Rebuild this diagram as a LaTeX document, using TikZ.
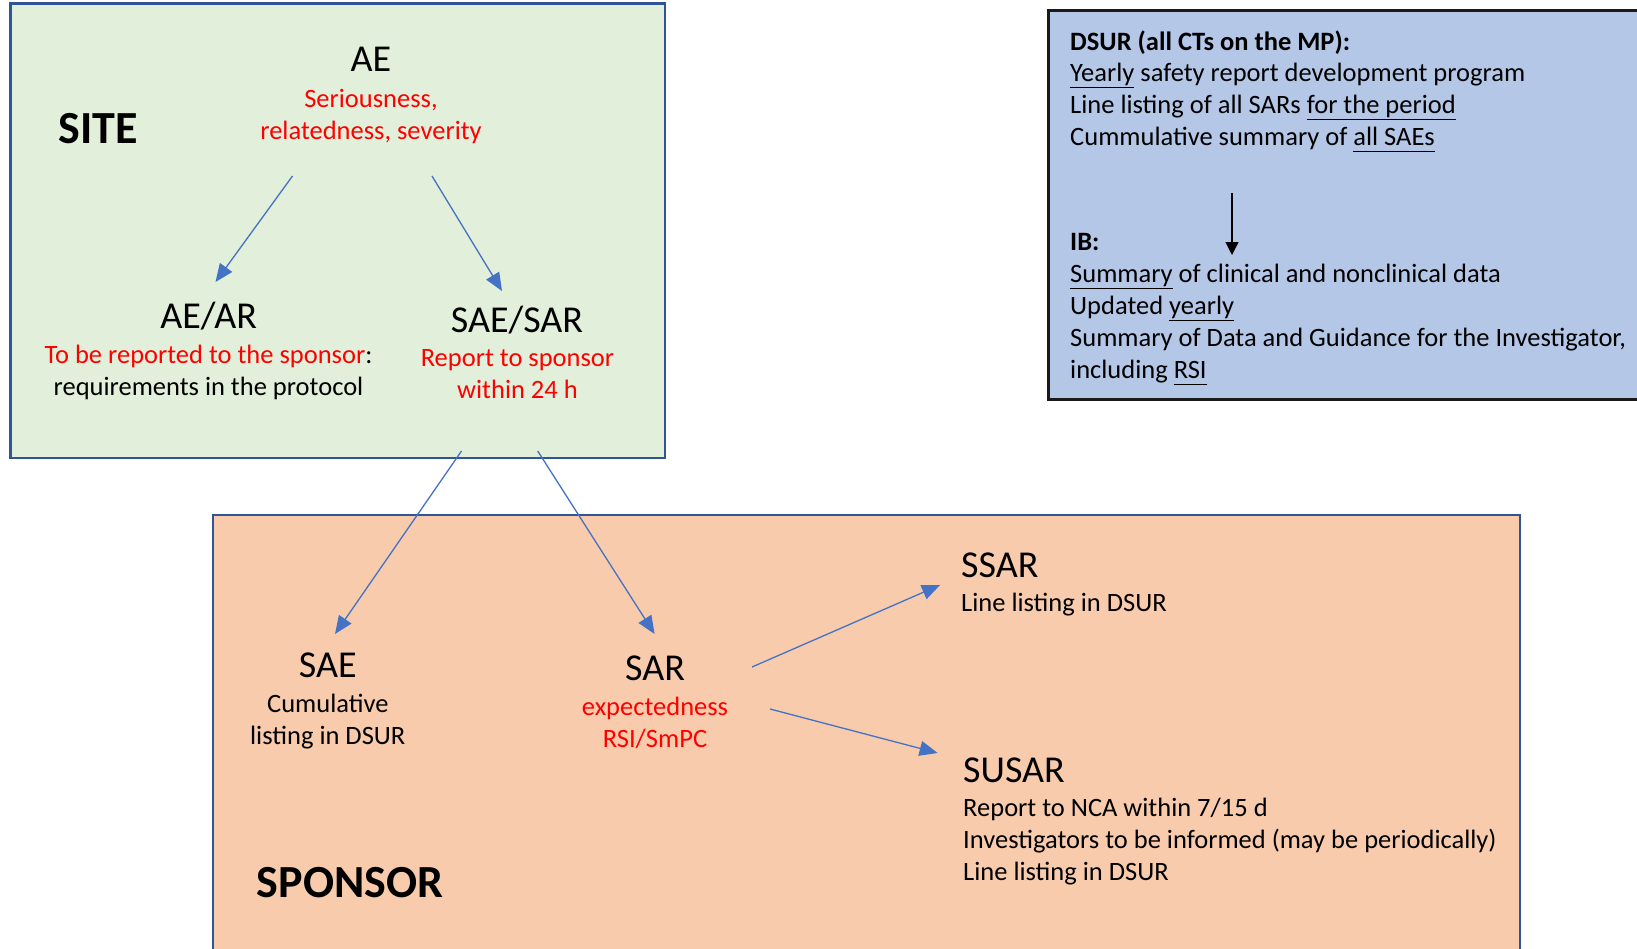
\documentclass[tikz,border=0pt]{standalone}
\usepackage{fontspec}
\setmainfont{Carlito}
\usetikzlibrary{arrows.meta}

\definecolor{sitegreen}{RGB}{226,239,218}
\definecolor{dsurblue}{RGB}{180,199,231}
\definecolor{sponsororange}{RGB}{248,203,173}
\definecolor{boxblue}{RGB}{47,85,151}
\definecolor{arrowblue}{RGB}{68,114,196}
\definecolor{textred}{RGB}{255,0,0}
\newcommand{\uln}[1]{\underline{#1\vphantom{gy}}}

\begin{document}
\begin{tikzpicture}[x=1pt,y=-1pt,
    box/.style={anchor=north west, inner sep=0pt, outer sep=0pt, line width=2.5pt},
    title/.style={font=\fontsize{38}{44}\selectfont, inner sep=0pt, anchor=base},
    body/.style={font=\fontsize{26.5}{31.8}\selectfont, inner sep=0pt, anchor=base, align=center},
    bodyl/.style={body, align=left, anchor=base west},
    head/.style={bodyl, font=\fontsize{26.5}{31.8}\selectfont\bfseries},
    biglabel/.style={font=\fontsize{46}{50}\selectfont\bfseries, inner sep=0pt, anchor=base},
    link/.style={draw=arrowblue, line width=1.3pt, -{Triangle[length=18pt,width=15pt]}}]
  \useasboundingbox (0,0) rectangle (1637,948);
  \clip (0,0) rectangle (1637,948);

  % the three boxes
  \node[box, draw=boxblue, fill=sitegreen, minimum width=654.5pt, minimum height=454.7pt] (site) at (10.5,3.3) {};
  \node[box, draw=black!90, line width=3pt, fill=dsurblue, minimum width=620pt, minimum height=389pt] (dsurbox) at (1048,10) {};
  \node[box, draw=boxblue, fill=sponsororange, minimum width=1307pt, minimum height=460pt] (sponsor) at (213,515) {};

  % site (multi-line nodes sit on their last baseline)
  \node[biglabel] (sitelbl) at (98,143) {SITE};
  \node[title] (ae) at (371,71.7) {AE};
  \node[body, text=textred] (aeinfo) at (371,139.5) {Seriousness,\\relatedness, severity};
  \node[title] (aear) at (208.7,328) {AE/AR};
  \node[body] (aearinfo) at (208.5,395) {\textcolor{textred}{To be reported to the sponsor}:\\requirements in the protocol};
  \node[title] (saesar) at (517,332) {SAE/SAR};
  \node[body, text=textred] (saesarinfo) at (517.5,398) {Report to sponsor\\within 24 h};

  % sponsor
  \node[title] (sae) at (327.8,677) {SAE};
  \node[body] (saeinfo) at (327.8,744) {Cumulative\\listing in DSUR};
  \node[title] (sar) at (655,680) {SAR};
  \node[body, text=textred] (sarinfo) at (655,747) {expectedness\\RSI/SmPC};
  \node[title, anchor=base west] (ssar) at (961,577) {SSAR};
  \node[bodyl] (ssarinfo) at (961,611) {Line listing in DSUR};
  \node[title, anchor=base west] (susar) at (963,782) {SUSAR};
  \node[bodyl] (susarinfo) at (963,880) {Report to NCA within 7/15 d\\Investigators to be informed (may be periodically)\\Line listing in DSUR};
  \node[biglabel] (sponsorlbl) at (350,897) {SPONSOR};

  % DSUR / IB
  \node[head] (dsur) at (1070,50) {DSUR (all CTs on the MP):};
  \node[bodyl] (dsurinfo) at (1070,145) {\uln{Yearly} safety report development program\\Line listing of all SARs \uln{for the period}\\Cummulative summary of \uln{all SAEs}};
  \node[head] (ib) at (1070,250) {IB:};
  \node[bodyl] (ibinfo) at (1070,378) {\uln{Summary} of clinical and nonclinical data\\Updated \uln{yearly}\\Summary of Data and Guidance for the Investigator,\\including \uln{RSI}};

  % arrows
  \draw[link] ([shift={(-78.5,104.3)}]ae.base) -- ([shift={(6.8,-46)}]aear.base);
  \draw[link] ([shift={(61,104.3)}]ae.base) -- ([shift={(-15,-41)}]saesar.base);
  \draw[link] ([shift={(451,-7)}]site.south west) -- ([shift={(7.2,-43)}]sae.base);
  \draw[link] ([shift={(527.2,-7)}]site.south west) -- ([shift={(-0.4,-46)}]sar.base);
  \draw[link] ([shift={(97,-13)}]sar.base) -- ([shift={(-21,8)}]ssar.base west);
  \draw[link] ([shift={(115,29)}]sar.base) -- ([shift={(-25.4,-29)}]susar.base west);
  \draw[line width=1.2pt, -{Triangle[length=13pt,width=13pt]}] ([shift={(162,143)}]dsur.base west) -- ([shift={(162,5)}]ib.base west);
\end{tikzpicture}
\end{document}
